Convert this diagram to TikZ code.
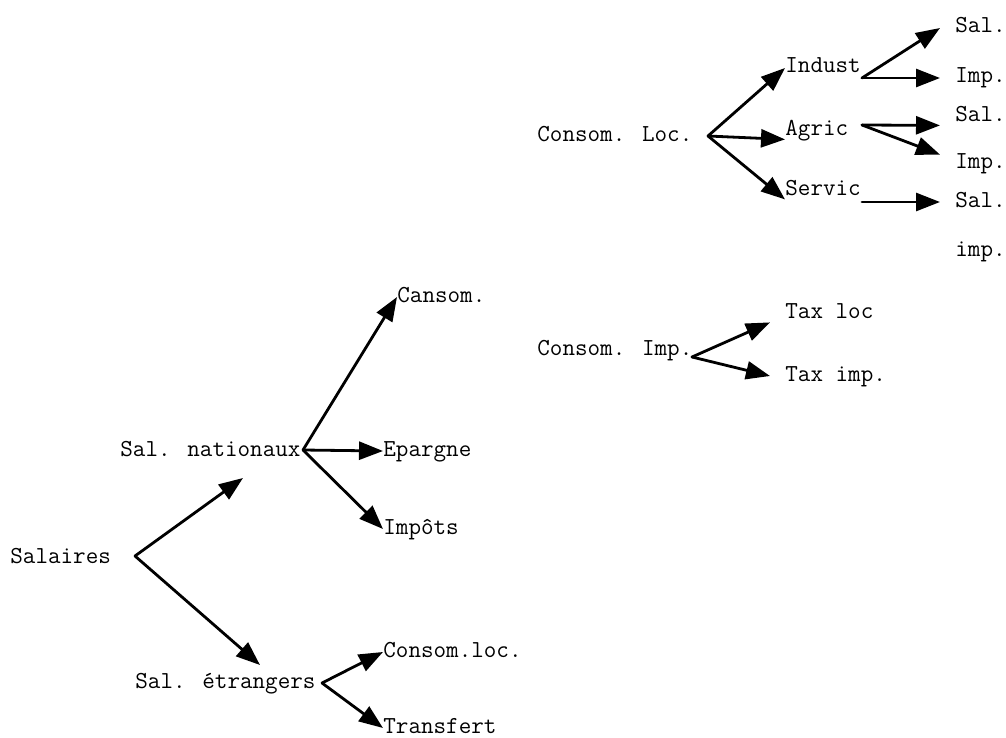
\documentclass[tikz,border=0pt]{standalone}
\usepackage{fontspec}
\usepackage{tikz}
\usetikzlibrary{arrows.meta}

\begin{document}
\begin{tikzpicture}[x=.5pt,y=-.5pt]
  \path[use as bounding box] (0,0) rectangle (1006,738);
  \tikzset{
    slItem/.style={
      anchor=west, inner sep=0pt, text height=7pt, text depth=2pt,
      font=\fontsize{12.2}{14}\selectfont\ttfamily
    },
    slLeaf/.style={slItem, inner xsep=7.5pt},
    slFlow/.style={
      -{Triangle[length=12pt,width=9pt]}, line width=1.4pt,
      line cap=round, line join=round
    }
  }

  % left tree
  \node[slItem] (salaires) at (10,558) {Salaires};
  \node[slItem] (nat) at (120,451) {Sal. nationaux};
  \node[slItem] (etr) at (135,683) {Sal. étrangers};
  \node[slItem] (cansom) at (397,297) {Cansom.};
  \node[slItem] (epargne) at (383,451) {Epargne};
  \node[slItem] (impots) at (383,529) {Impôts};
  \node[slItem] (consloc) at (383,652) {Consom.loc.};
  \node[slItem] (transfert) at (383,728) {Transfert};

  \coordinate (salJ) at (135,556);
  \coordinate (natIn) at (243,478);
  \coordinate (etrIn) at (260,665);
  \coordinate (natJ) at (303,450);
  \coordinate (etrJ) at (322,683);

  \draw[slFlow] (salJ) -- (natIn);
  \draw[slFlow] (salJ) -- (etrIn);
  \draw[slFlow] (natJ) -- (cansom.west);
  \draw[slFlow] (natJ) -- (epargne.west);
  \draw[slFlow] (natJ) -- (impots.west);
  \draw[slFlow] (etrJ) -- (consloc.west);
  \draw[slFlow] (etrJ) -- (transfert.west);

  % consommation locale
  \node[slItem] (loc) at (537,136) {Consom. Loc.};
  \node[slItem] (indust) at (785,68) {Indust};
  \node[slItem] (agric) at (785,130) {Agric};
  \node[slItem] (servic) at (785,190) {Servic};
  \node[slLeaf] (salA) at (940,28) {Sal.};
  \node[slLeaf] (impA) at (940,78) {Imp.};
  \node[slLeaf] (salB) at (940,116) {Sal.};
  \node[slLeaf] (impB) at (940,164) {Imp.};
  \node[slLeaf] (salC) at (940,202) {Sal.};
  \node[slLeaf] (impC) at (940,251) {imp.};

  \coordinate (locJ) at (708,136);
  \coordinate (industJ) at (862,78);
  \coordinate (agricJ) at (862,125);
  \coordinate (servicJ) at (862,202);

  \draw[slFlow] (locJ) -- (indust.west);
  \draw[slFlow] (locJ) -- (agric.south west);
  \draw[slFlow] (locJ) -- (servic.south west);
  \draw[slFlow] (industJ) -- (salA.west);
  \draw[slFlow] (industJ) -- (impA.west);
  \draw[slFlow] (agricJ) -- (salB.south west);
  \draw[slFlow] (agricJ) -- (impB.north west);
  \draw[slFlow] (servicJ) -- (salC.west);

  % consommation importee
  \node[slItem] (imp) at (537,350) {Consom. Imp.};
  \node[slLeaf] (taxloc) at (770,313) {Tax loc};
  \node[slLeaf] (taximp) at (770,376) {Tax imp.};

  \coordinate (impJ) at (692,357);

  \draw[slFlow] (impJ) -- (taxloc.south west);
  \draw[slFlow] (impJ) -- (taximp.west);
\end{tikzpicture}
\end{document}
